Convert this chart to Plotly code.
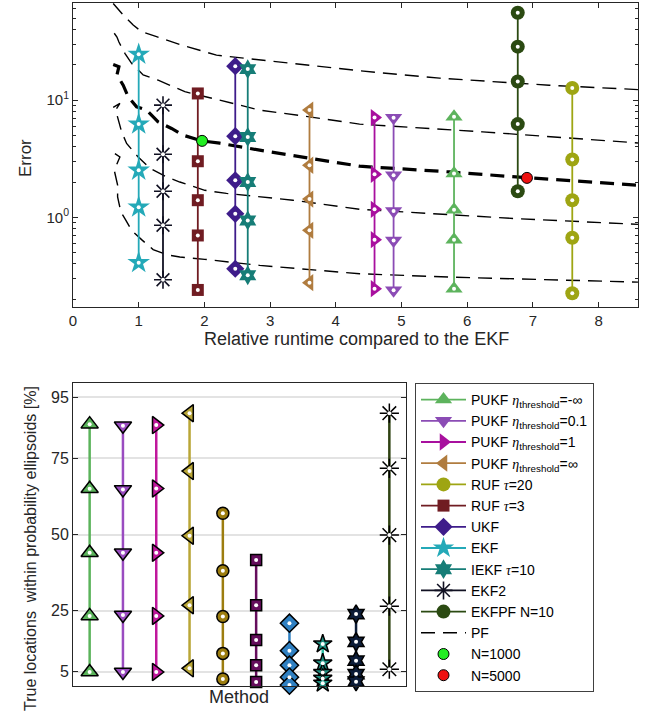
import plotly.graph_objects as go

FONT = "Liberation Sans, Arial, sans-serif"
TXT = "#262626"
ETA = "<span style='font-family:Liberation Serif'><i>η</i></span>"
TAU = "<span style='font-family:Liberation Serif'><i>τ</i></span>"

# ---------------- top panel data: error vs relative runtime ----------------
top_labels = [
    "PUKF " + ETA + "<sub>threshold</sub>=-∞",
    "PUKF " + ETA + "<sub>threshold</sub>=0.1",
    "PUKF " + ETA + "<sub>threshold</sub>=1",
    "PUKF " + ETA + "<sub>threshold</sub>=∞",
    "RUF " + TAU + "=20",
    "RUF " + TAU + "=3",
    "UKF",
    "EKF",
    "IEKF " + TAU + "=10",
    "EKF2",
    "EKFPF N=10",
]
top_runtime = [5.80, 4.88, 4.59, 3.60, 7.60, 1.90, 2.47, 1.00, 2.66, 1.37, 6.77]

err_pukf_minf = [7.2, 2.36, 1.16, 0.644, 0.246]
err_pukf_01 = [7.06, 2.28, 1.13, 0.635, 0.238]
err_pukf_1 = [7.1, 2.33, 1.17, 0.645, 0.246]
err_pukf_inf = [8.22, 2.78, 1.43, 0.774, 0.277]
err_ruf_20 = [12.7, 3.11, 1.40, 0.67, 0.225]
err_ruf_3 = [11.4, 3.01, 1.40, 0.70, 0.24]
err_ukf = [19.5, 4.92, 2.07, 1.07, 0.364]
err_ekf = [24.6, 6.24, 2.52, 1.22, 0.41]
err_iekf = [18.4, 4.85, 2.00, 0.94, 0.32]
err_ekf2 = [9.06, 3.45, 1.67, 0.855, 0.293]
err_ekfpf = [55.7, 28.6, 14.4, 6.24, 1.67]

# particle filter curves (five quantile curves, the middle one drawn thick)
pf_x_1 = [0.612, 0.764, 0.916, 1.044, 1.272, 1.652, 2.184, 3.348, 4.362, 5.578, 7.249, 8.6]
pf_y_1 = [66.8, 53.2, 43.7, 38.4, 34.8, 29.5, 24.2, 20.6, 17.8, 15.4, 13.4, 12.3]
pf_x_2 = [0.628, 0.669, 0.699, 0.790, 0.892, 1.068, 1.296, 1.702, 2.234, 2.842, 3.602, 4.362, 6.236, 7.249, 8.6]
pf_y_2 = [37.2, 34.5, 31.3, 25.1, 20.6, 16.4, 14.8, 11.8, 10.0, 8.22, 7.20, 6.24, 5.36, 4.86, 4.31]
pf_x_3 = [0.612, 0.699, 0.669, 0.764, 0.840, 0.968, 1.120, 1.296, 1.500, 1.676, 1.960, 2.234, 2.842, 3.602, 4.362, 5.729, 6.743, 8.6]
pf_y_3 = [20.1, 19.3, 16.4, 13.4, 10.7, 8.77, 8.22, 6.53, 5.73, 5.02, 4.49, 4.29, 3.74, 3.18, 2.73, 2.44, 2.21, 1.88]
pf_x_4 = [0.612, 0.714, 0.649, 0.740, 0.816, 0.992, 1.170, 1.424, 1.626, 2.006, 2.336, 3.348, 4.362, 6.743, 8.6]
pf_y_4 = [8.67, 9.37, 8.22, 5.36, 4.27, 3.27, 2.62, 2.21, 2.00, 1.70, 1.60, 1.40, 1.17, 0.975, 0.871]
pf_x_5 = [0.638, 0.714, 0.628, 0.679, 0.679, 0.729, 0.790, 0.892, 1.044, 1.220, 1.424, 1.626, 2.006, 2.842, 4.362, 5.729, 8.6]
pf_y_5 = [3.50, 3.27, 2.52, 1.88, 1.49, 1.11, 0.975, 0.774, 0.645, 0.530, 0.480, 0.458, 0.438, 0.389, 0.330, 0.309, 0.280]

pf_n1000_x = [1.965]
pf_n1000_y = [4.49]
pf_n5000_x = [6.91]
pf_n5000_y = [2.17]

# ---------------- bottom panel data: coverage [%] ----------------
cov_positions = [1, 2, 3, 4, 5, 6, 7, 8, 9, 10]
cov_pukf_minf = [86.2, 65.0, 44.0, 23.3, 4.9]
cov_pukf_01 = [85.7, 64.8, 44.0, 23.6, 4.9]
cov_pukf_1 = [85.9, 65.1, 44.0, 23.3, 4.9]
cov_pukf_inf = [89.8, 70.8, 49.6, 26.8, 6.1]
cov_ruf_20 = [57.0, 38.1, 23.1, 11.0, 2.6]
cov_ruf_3 = [41.6, 26.8, 15.4, 7.1, 1.6]
cov_ukf = [20.9, 11.9, 7.1, 3.2, 0.6]
cov_ekf = [14.1, 7.8, 4.7, 2.8, 1.2]
cov_iekf = [23.9, 14.8, 8.6, 4.2, 1.7]
cov_ekf2 = [89.8, 71.7, 49.8, 26.5, 5.8]

y_ticks_bottom = [5, 25, 50, 75, 95]

# ---------------- styles ----------------
top_errors = [err_pukf_minf, err_pukf_01, err_pukf_1, err_pukf_inf, err_ruf_20,
              err_ruf_3, err_ukf, err_ekf, err_iekf, err_ekf2, err_ekfpf]
top_colors = ["#5db35d", "#8b4cb5", "#a8109e", "#b07c3f", "#9ea513",
              "#701c22", "#3e1c8a", "#24a9b8", "#167d77", "#111122", "#2b4a12"]
top_symbols = ["triangle-up", "triangle-down", "triangle-right", "triangle-left", "circle",
               "square", "diamond", "star", "hexagram", "asterisk-open", "circle"]
top_sizes = [15, 15, 15, 15, 14, 12, 14, 17, 15, 15, 14]

bot_values = [cov_pukf_minf, cov_pukf_01, cov_pukf_1, cov_pukf_inf, cov_ruf_20,
              cov_ruf_3, cov_ukf, cov_ekf, cov_iekf, cov_ekf2]
bot_fill = ["#5bb35b", "#9a4cc0", "#c0179c", "#b9a637", "#9c7d0f",
            "#650d5c", "#2f80c2", "#1f8f80", "#0c1c38", "#000000"]
bot_line = ["#5bb35b", "#9a4cc0", "#c0179c", "#b9a637", "#9c7d0f",
            "#650d5c", "#2f80c2", "#2fc0a5", "#0c1c38", "#2f4212"]
bot_symbols = ["triangle-up", "triangle-down", "triangle-right", "triangle-left", "circle",
               "square", "diamond", "star", "hexagram", "asterisk-open"]
bot_sizes = [15, 15, 15, 15, 12, 11, 14, 14, 14, 16]

fig = go.Figure()

# PF curves (behind the methods)
pf_xs = [pf_x_1, pf_x_2, pf_x_3, pf_x_4, pf_x_5]
pf_ys = [pf_y_1, pf_y_2, pf_y_3, pf_y_4, pf_y_5]
for i, (px, py) in enumerate(zip(pf_xs, pf_ys)):
    fig.add_trace(go.Scatter(
        x=px, y=py, mode="lines", name="PF",
        line=dict(color="black", width=3.2 if i == 2 else 1.4, dash="14px,8px"),
        showlegend=(i == 0), legendrank=12, legendgroup="pf",
        xaxis="x", yaxis="y", hoverinfo="skip"))

# methods in top panel
for k in range(len(top_labels)):
    xs = [top_runtime[k]] * len(top_errors[k])
    sym = top_symbols[k]
    is_open = sym.endswith("open")
    fig.add_trace(go.Scatter(
        x=xs, y=top_errors[k], mode="lines+markers", name=top_labels[k],
        line=dict(color=top_colors[k], width=1.8),
        marker=dict(symbol=sym, size=top_sizes[k], color=top_colors[k],
                    line=dict(width=1.6 if is_open else 0, color=top_colors[k])),
        legendrank=k + 1, xaxis="x", yaxis="y"))
    fig.add_trace(go.Scatter(
        x=xs, y=top_errors[k], mode="markers", showlegend=False,
        marker=dict(symbol="circle", size=4, color="white"),
        xaxis="x", yaxis="y", hoverinfo="skip"))

# PF N markers
fig.add_trace(go.Scatter(
    x=pf_n1000_x, y=pf_n1000_y, mode="markers", name="N=1000",
    marker=dict(symbol="circle", size=11, color="#22ee22", line=dict(color="black", width=1)),
    legendrank=13, xaxis="x", yaxis="y"))
fig.add_trace(go.Scatter(
    x=pf_n5000_x, y=pf_n5000_y, mode="markers", name="N=5000",
    marker=dict(symbol="circle", size=11, color="#ee1111", line=dict(color="black", width=1)),
    legendrank=14, xaxis="x", yaxis="y"))

# bottom panel
for k in range(len(bot_values)):
    xs = [cov_positions[k]] * len(bot_values[k])
    sym = bot_symbols[k]
    fig.add_trace(go.Scatter(
        x=xs, y=bot_values[k], mode="lines+markers", showlegend=False,
        line=dict(color=bot_line[k], width=2.5),
        marker=dict(symbol=sym, size=bot_sizes[k], color=bot_fill[k],
                    line=dict(width=1.5, color="black")),
        cliponaxis=False, xaxis="x2", yaxis="y2"))
    fig.add_trace(go.Scatter(
        x=xs, y=bot_values[k], mode="markers", showlegend=False,
        marker=dict(symbol="circle", size=4, color="white"),
        cliponaxis=False, xaxis="x2", yaxis="y2", hoverinfo="skip"))

minor_log = [0.2, 0.3, 0.4, 0.5, 0.6, 0.7, 0.8, 0.9, 2, 3, 4, 5, 6, 7, 8, 9, 20, 30, 40, 50, 60]

axis_common = dict(showline=True, linecolor=TXT, linewidth=1, mirror="ticks",
                   ticks="inside", tickcolor=TXT, zeroline=False)

ann_common = dict(xref="paper", yref="paper", xanchor="center", yanchor="middle",
                  showarrow=False)

fig.update_layout(
    width=650, height=725,
    margin=dict(l=0, r=0, t=0, b=0, autoexpand=False),
    paper_bgcolor="white", plot_bgcolor="white",
    font=dict(family=FONT, color=TXT),
    xaxis=dict(domain=[0.1123, 0.9815], anchor="y", range=[0, 8.6],
               tickvals=[0, 1, 2, 3, 4, 5, 6, 7, 8], ticklen=5, showgrid=False,
               tickfont=dict(family=FONT, size=15, color=TXT), **axis_common),
    yaxis=dict(domain=[0.5766, 0.9959], anchor="x", type="log", range=[-0.765, 1.829],
               tickvals=[1, 10], ticktext=["10<sup>0</sup>", "10<sup>1</sup>"],
               ticklen=5, showgrid=False,
               tickfont=dict(family=FONT, size=15, color=TXT),
               minor=dict(tickmode="array", tickvals=minor_log, ticks="inside",
                          ticklen=3, tickcolor=TXT, showgrid=False),
               **axis_common),
    xaxis2=dict(domain=[0.1123, 0.6246], anchor="y2", range=[0.5, 10.5],
                showticklabels=False, showline=True, linecolor=TXT, linewidth=1,
                mirror=True, ticks="", showgrid=False, zeroline=False),
    yaxis2=dict(domain=[0.0538, 0.4717], anchor="x2", range=[0.3, 99.7],
                tickvals=y_ticks_bottom, ticklen=5, showgrid=True,
                gridcolor="#e3e3e3", gridwidth=1.5,
                tickfont=dict(family=FONT, size=16, color=TXT), **axis_common),
    legend=dict(x=415 / 650, y=1 - 383 / 725, xanchor="left", yanchor="top",
                bordercolor="#404040", borderwidth=1, bgcolor="white",
                font=dict(family=FONT, size=14, color="black"),
                traceorder="normal", itemwidth=45),
    annotations=[
        dict(text="Error", x=25 / 650, y=1 - 158 / 725, textangle=-90,
             font=dict(family=FONT, size=17, color=TXT), **ann_common),
        dict(text="Relative runtime compared to the EKF", x=356 / 650, y=1 - 339 / 725,
             font=dict(family=FONT, size=18, color=TXT), **ann_common),
        dict(text="True locations&nbsp; within probability ellipsoids [%]", x=30 / 650,
             y=1 - 549 / 725, textangle=-90,
             font=dict(family=FONT, size=16, color=TXT), **ann_common),
        dict(text="Method", x=239 / 650, y=1 - 697 / 725,
             font=dict(family=FONT, size=18, color=TXT), **ann_common),
    ],
)

fig.write_html("out.html", config={"displayModeBar": False},
               post_script="document.body.style.margin='0px';")
